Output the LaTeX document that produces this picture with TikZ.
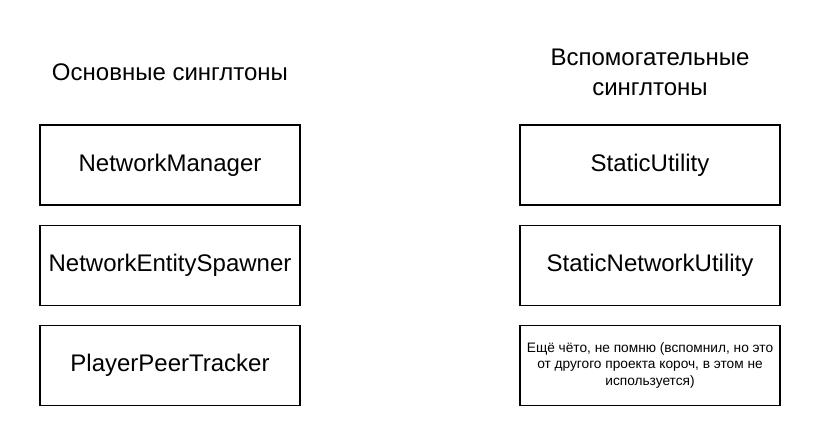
\documentclass[tikz,border=0pt]{standalone}
\usepackage{fontspec}
\setmainfont{Liberation Sans}
\usetikzlibrary{positioning}

\begin{document}
\begin{tikzpicture}[
    x=1pt, y=-1pt,
    node distance=19pt,
    box/.style={draw, line width=1.2pt, minimum width=260pt, minimum height=80pt, align=center, font=\fontsize{24}{28}\selectfont, inner sep=2pt},
    title/.style={align=center, font=\fontsize{24}{30}\selectfont}
]
    \useasboundingbox (0,0) rectangle (822,446);

    % основные
    \node[title] (mainhead) at (170,72) {Основные синглтоны};
    \node[box] (netman) at (170,165) {NetworkManager};
    \node[box, below=of netman] (spawner) {NetworkEntitySpawner};
    \node[box, below=of spawner] (tracker) {PlayerPeerTracker};

    % вспомогательные
    \node[title] (auxhead) at (650,72) {Вспомогательные\\синглтоны};
    \node[box] (util) at (650,165) {StaticUtility};
    \node[box, below=of util] (netutil) {StaticNetworkUtility};
    \node[box, below=of netutil, font=\fontsize{13.7}{16.2}\selectfont] (other) {Ещё чёто, не помню (вспомнил, но это\\от другого проекта короч, в этом не\\используется)};
\end{tikzpicture}
\end{document}
